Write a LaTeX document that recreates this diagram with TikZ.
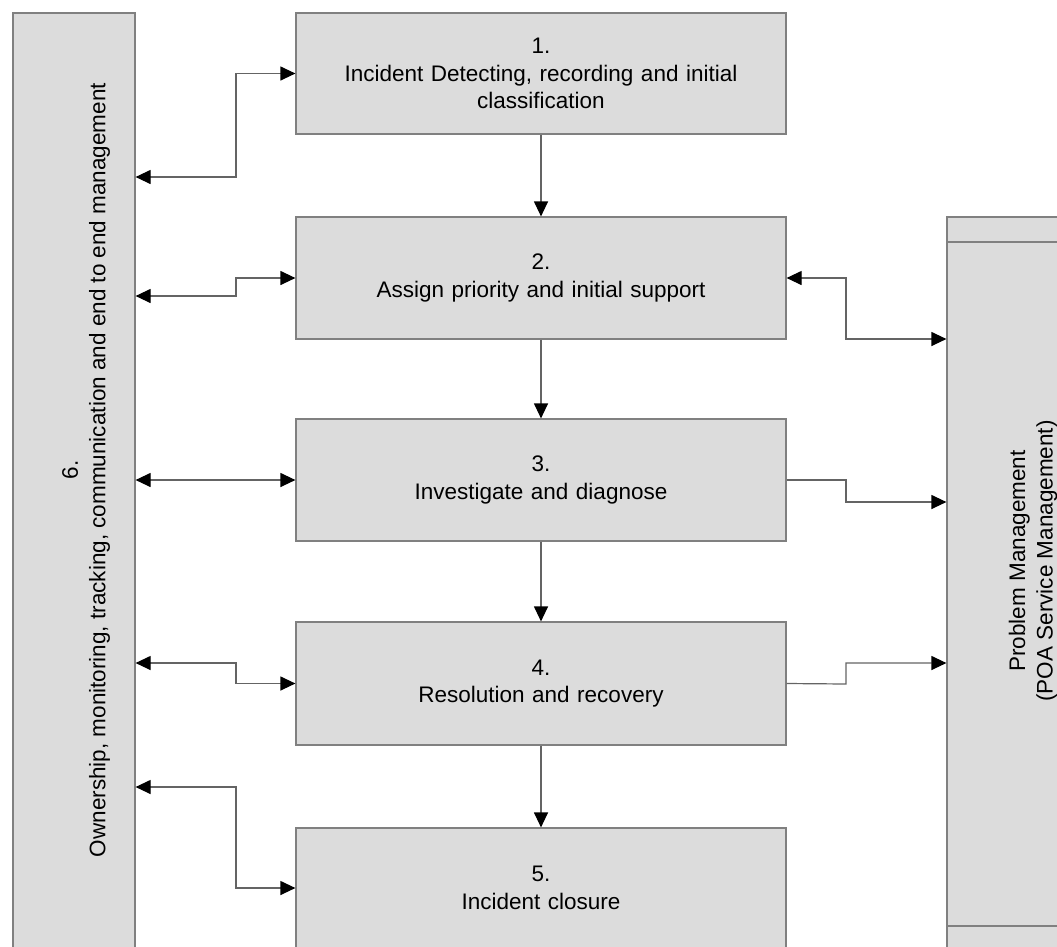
\documentclass[tikz,border=0pt]{standalone}
\usepackage{fontspec}
\setmainfont{Liberation Sans}
\usetikzlibrary{arrows.meta,calc}
\definecolor{boxfill}{RGB}{220,220,220}
\definecolor{boxline}{RGB}{128,128,128}
\definecolor{connline}{RGB}{100,100,100}
\tikzset{
  stepbox/.style={draw=boxline, line width=1.2pt, fill=boxfill, inner sep=0pt,
    minimum width=490pt, align=center, text width=470pt,
    font=\fontsize{22.5}{27.5}\selectfont},
  sidebar/.style={draw=boxline, line width=1.2pt, fill=boxfill, inner sep=0pt},
  sidetext/.style={rotate=90, align=center, inner sep=0pt,
    font=\fontsize{22.5}{27.5}\selectfont},
  conn/.style={draw=connline, line width=1.2pt},
  tip/.tip={Triangle[length=15pt,width=14pt,color=black]},
  flow/.style={conn,-tip},
  both/.style={conn,tip-tip},
}
\begin{document}
\begin{tikzpicture}[x=1pt,y=-1pt]
\useasboundingbox (0,0) rectangle (1057,946);
\clip (0,0) rectangle (1057,946);

% side bars
\node[sidebar, minimum width=122pt, minimum height=937pt] (own) at (74,481.5) {};
\node[sidetext] (ownt) at (86,470) {6.\\Ownership, monitoring, tracking, communication and end to end management};

\node[sidebar, minimum width=173pt, minimum height=733pt] (pm) at (1033.5,583.5) {};
\draw[draw=boxline, line width=1.2pt] (pm.west |- 0,242) -- (pm.east |- 0,242);
\draw[draw=boxline, line width=1.2pt] (pm.west |- 0,926) -- (pm.east |- 0,926);
\node[sidetext] (pmt) at (1033,561) {Problem Management\\(POA Service Management)};

% process steps
\node[stepbox, minimum height=121pt] (b1) at (541,73.5) {1.\\Incident Detecting, recording and initial\\classification};
\node[stepbox, minimum height=122pt] (b2) at (541,278) {2.\\Assign priority and initial support};
\node[stepbox, minimum height=122pt] (b3) at (541,480) {3.\\Investigate and diagnose};
\node[stepbox, minimum height=123pt] (b4) at (541,683.5) {4.\\Resolution and recovery};
\node[stepbox, minimum height=120pt] (b5) at (541,888) {5.\\Incident closure};

% main flow
\draw[flow] (b1.south) -- (b2.north);
\draw[flow] (b2.south) -- (b3.north);
\draw[flow] (b3.south) -- (b4.north);
\draw[flow] (b4.south) -- (b5.north);

% links to the ownership bar
\draw[both] (own.east |- 0,177) -- (236,177) |- (b1.west);
\draw[both] (own.east |- 0,296) -- (236,296) |- (b2.west);
\draw[both] (own.east |- b3.west) -- (b3.west);
\draw[both] (own.east |- 0,663) -- (236,663) |- (b4.west);
\draw[both] (own.east |- 0,787) -- (236,787) |- (b5.west);

% links to problem management
\draw[both] (b2.east) -- (846,278) |- (pm.west |- 0,339);
\draw[flow] (b3.east) -- (846,480) |- (pm.west |- 0,502);
\draw[flow] (b4.east) -- (846,684) |- (pm.west |- 0,663);
\end{tikzpicture}
\end{document}
